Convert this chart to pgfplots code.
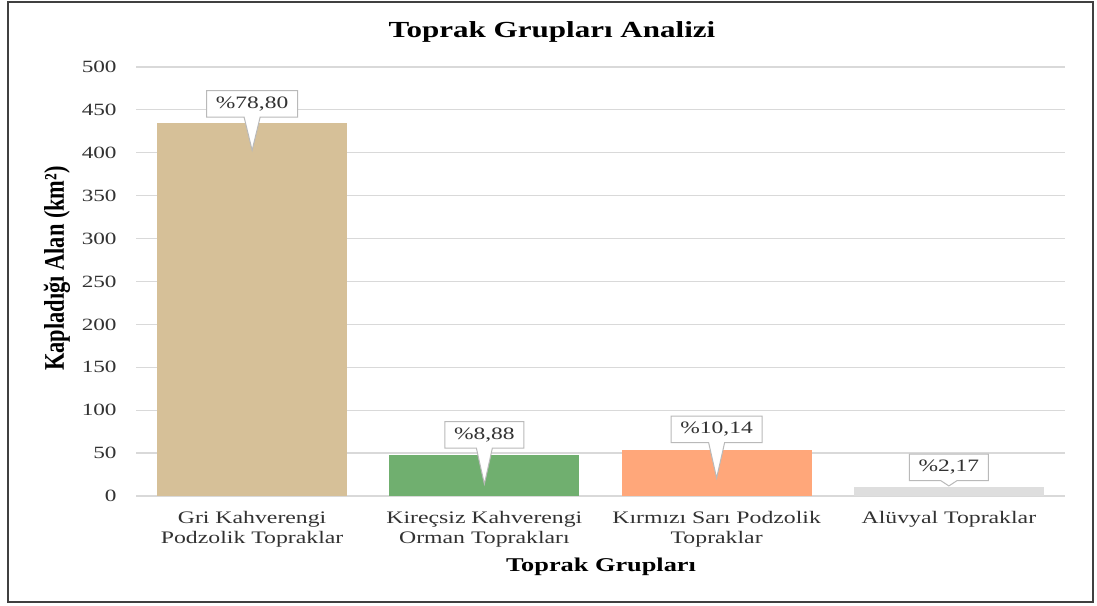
\documentclass[border=0pt]{standalone}
\usepackage{pgfplots}
\pgfplotsset{compat=1.18}
\usepackage{fontspec}
\setmainfont[FakeStretch=1.35]{Liberation Serif}
\newfontfamily\yfont{Liberation Serif}
\usetikzlibrary{shapes.callouts}
\definecolor{tanc}{RGB}{214,192,152}
\definecolor{greenc}{RGB}{112,175,111}
\definecolor{orangec}{RGB}{255,167,122}
\definecolor{greyc}{RGB}{222,222,222}
\definecolor{gridc}{RGB}{217,217,217}
\definecolor{txtc}{RGB}{50,50,50}
\begin{document}
\begin{tikzpicture}
\begin{axis}[
  scale only axis, width=464.5pt, height=214.5pt,
  ybar, bar width=95pt,
  xmin=-0.5, xmax=3.5, ymin=0, ymax=500,
  xtick={0,1,2,3},
  xticklabels={{Gri Kahverengi\\Podzolik Topraklar},{Kireçsiz Kahverengi\\Orman Toprakları},{Kırmızı Sarı Podzolik\\Topraklar},{Alüvyal Topraklar}},
  ytick={0,50,...,500},
  axis x line*=bottom, axis y line*=left,
  axis line style={draw=none},
  major tick length=0pt,
  ymajorgrids, grid style={gridc, line width=0.6pt},
  clip=false,
  /pgf/number format/assume math mode=true,
  yticklabel style={font=\fontsize{8.6}{10}\selectfont, text=txtc, inner sep=0pt, anchor=east, xshift=-9.5pt},
  xticklabel style={font=\fontsize{8.8}{10}\selectfont, align=center, text=txtc, inner sep=0pt, anchor=north, yshift=-7.6pt},
]
\addplot[fill=tanc, draw=none, bar shift=0pt] coordinates {(0,435)};
\addplot[fill=greenc, draw=none, bar shift=0pt] coordinates {(1,48)};
\addplot[fill=orangec, draw=none, bar shift=0pt] coordinates {(2,54)};
\addplot[fill=greyc, draw=none, bar shift=0pt] coordinates {(3,10)};
\coordinate (p1) at (axis cs:0,403);
\coordinate (b1) at (axis cs:0,457);
\coordinate (p2) at (axis cs:1,14);
\coordinate (b2) at (axis cs:1,71.3);
\coordinate (p3) at (axis cs:2,21);
\coordinate (b3) at (axis cs:2,77.7);
\coordinate (p4) at (axis cs:3,11.7);
\coordinate (b4) at (axis cs:3,33.3);
\end{axis}
\path ([shift={(-68pt,-55pt)}]current axis.south west) rectangle ([shift={(16pt,33.5pt)}]current axis.north east);
\draw[black!75, line width=1pt] ([shift={(-64pt,-53pt)}]current axis.south west) rectangle ([shift={(14pt,32.5pt)}]current axis.north east);
\tikzset{cl/.style={rectangle callout, draw=gray!55, line width=0.5pt, fill=white, font=\fontsize{8.7}{10}\selectfont, text=txtc, text height=6pt, text depth=1.5pt, inner xsep=4.6pt, inner ysep=2.9pt, callout pointer width=8pt}}
\node[cl, callout absolute pointer={(p1)}] at (b1) {\%78,80};
\node[cl, callout absolute pointer={(p2)}] at (b2) {\%8,88};
\node[cl, callout absolute pointer={(p3)}] at (b3) {\%10,14};
\node[cl, callout absolute pointer={(p4)}] at (b4) {\%2,17};
\node[font=\bfseries\fontsize{11.5}{13}\selectfont, anchor=base] at ([shift={(208pt,229pt)}]current axis.south west) {Toprak Grupları Analizi};
\node[font=\bfseries\fontsize{9.75}{11}\selectfont, anchor=base] at ([shift={(232.5pt,-38pt)}]current axis.south west) {Toprak Grupları};
\node[rotate=90, anchor=center] at ([shift={(-39.5pt,113.75pt)}]current axis.south west) {\scalebox{1}[1.27]{\yfont\bfseries\fontsize{11.2}{13}\selectfont Kapladığı Alan (km²)}};
\end{tikzpicture}
\end{document}
